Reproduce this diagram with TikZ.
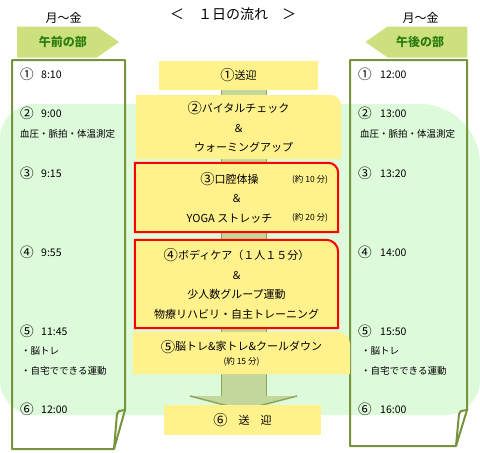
\documentclass[tikz,border=0pt]{standalone}
\usepackage{fontspec}
\usepackage{graphicx}
\setmainfont{Noto Sans CJK JP}
\usetikzlibrary{positioning,backgrounds,shapes.symbols}

\definecolor{bgmint}{HTML}{DDFADB}
\definecolor{boxyel}{HTML}{FFF18C}
\definecolor{shaft}{HTML}{C3D69B}
\definecolor{shaftdk}{HTML}{8FA65A}
\definecolor{paperln}{HTML}{77933C}
\definecolor{tagfill}{HTML}{CCE17D}
\definecolor{taggreen}{HTML}{2E7D10}

% larger circled numbers
\newcommand{\cnum}[1]{\raisebox{-0.1em}{\scalebox{1.3}{#1}}}

\begin{document}
\begin{tikzpicture}[x=1pt, y=-1pt,
    slot/.style={inner sep=0pt, align=center, font=\fontsize{11}{19.5}\selectfont},
    tag/.style={shape=signal, fill=tagfill, text=taggreen, font=\fontsize{12}{14}\selectfont\bfseries,
        minimum width=102pt, minimum height=31pt, inner sep=0pt, signal pointer angle=70},
    stamp/.style={anchor=west, inner sep=0pt, font=\fontsize{10.5}{12}\selectfont},
    memo/.style={anchor=west, inner sep=0pt, font=\fontsize{9.5}{11}\selectfont},
    mini/.style={inner sep=0pt, font=\fontsize{8.5}{9}\selectfont},
    paper/.style={draw=paperln, line width=2pt, line join=round}]
\useasboundingbox (0,0) rectangle (480,453);

% heading
\node[font=\fontsize{14}{16}\selectfont] (title) at (233,14) {＜　１日の流れ　＞};
\node[font=\fontsize{12}{14}\selectfont] (daysL) at (63.5,18) {月～金};
\node[font=\fontsize{12}{14}\selectfont] (daysR) at (420.5,18) {月～金};
\node[tag, signal to=east] (am) at (57,42) {\hspace*{12pt}午前の部};
\node[tag, signal to=west] (pm) at (427.5,42) {午後の部\hspace*{15pt}};

% time columns
\foreach \y/\n/\l/\r in {74/①/8:10/12:00, 113/②/9:00/13:00, 173/③/9:15/13:20,
    252/④/9:55/14:00, 331/⑤/11:45/15:50, 409/⑥/12:00/16:00}
{
  \node[stamp] (L\y) at (20,\y) {\makebox[21pt][l]{\cnum{\n}}\l};
  \node[stamp] (R\y) at (358,\y) {\makebox[22pt][l]{\cnum{\n}}\r};
}
\node[memo] (vitalL) at (20,134) {血圧・脈拍・体温測定};
\node[memo] (vitalR) at (360,134) {血圧・脈拍・体温測定};
\node[memo] (brainL) at (21,351) {・脳トレ};
\node[memo] (homeL) at (21,371) {・自宅でできる運動};
\node[memo] (brainR) at (361,351) {・脳トレ};
\node[memo] (homeR) at (361,371) {・自宅でできる運動};

% programme boxes
\node[slot, minimum width=159pt, minimum height=29pt] (b1) at (238.5,75.5) {\cnum{①}送迎};
\node[slot, minimum width=203pt, minimum height=62pt] (b2) at (238.5,127)
    {\cnum{②}バイタルチェック\\＆\\\hspace*{10pt}ウォーミングアップ};
\node[slot, minimum width=203pt, minimum height=69pt] (b3) at (236.5,197.5)
    {\cnum{③}口腔体操\hspace*{14pt}\\＆\hspace*{8pt}\\YOGA ストレッチ\hspace*{14pt}};
\node[mini] (n10) at (310,180) {(約 10 分)};
\node[mini] (n20) at (310,218) {(約 20 分)};
\node[slot, minimum width=203pt, minimum height=88pt] (b4) at (236.5,284)
    {\cnum{④}ボディケア（１人１５分）\\＆\\少人数グループ運動\\物療リハビリ・自主トレーニング};
\node[slot, minimum width=215pt, minimum height=40pt] (b5) at (241.5,353)
    {\cnum{⑤}脳トレ\&家トレ\&クールダウン\\[-6pt]{\fontsize{8.5}{9}\selectfont(約 15 分)}};
\node[slot, minimum width=157pt, minimum height=30pt] (b6) at (242.5,420) {\cnum{⑥}　送　迎};

\begin{scope}[on background layer]
% mint band
\fill[bgmint] (0,380) -- (0,139) arc[start angle=180, end angle=90, radius=35pt]
    -- (420,104) arc[start angle=90, end angle=0, radius=60pt]
    -- (480,380) arc[start angle=0, end angle=-90, radius=35pt]
    -- (35,415) arc[start angle=270, end angle=180, radius=35pt] -- cycle;
% note sheets
\draw[paper] (12,60) -- (125,60) -- (125,410) -- (114,449) -- (12,449) -- cycle;
\draw[paper] (125,410) -- (119,411) -- (117,414) -- (114,449);
\draw[paper] (350,60) -- (467,60) -- (467,410) -- (456,446) -- (350,446) -- cycle;
\draw[paper] (467,410) -- (461,411) -- (459,414) -- (456,446);
% flow arrow
\fill[shaft] (221,90) -- (221,396) -- (190,396) -- (243.5,410) -- (297,396) -- (266,396) -- (266,90) -- cycle;
\draw[shaftdk, line width=0.6pt] (221,90) -- (221,396) (266,90) -- (266,396);
\draw[shaftdk, line width=1.5pt] (190,396) -- (243.5,410) -- (297,396);
% boxes
\fill[boxyel] (b1.south west) rectangle (b1.north east);
\fill[boxyel] (b6.south west) rectangle (b6.north east);
\foreach \b/\r/\c in {b2/10pt/boxyel, b3/10pt/red, b4/12pt/red, b5/12pt/boxyel}
  \filldraw[fill=boxyel, draw=\c, line width=2pt] (\b.south west) -- (\b.north west)
    -- ([xshift=-\r]\b.north east) arc[start angle=90, end angle=0, radius=\r] -- (\b.south east) -- cycle;
\end{scope}
\end{tikzpicture}
\end{document}
